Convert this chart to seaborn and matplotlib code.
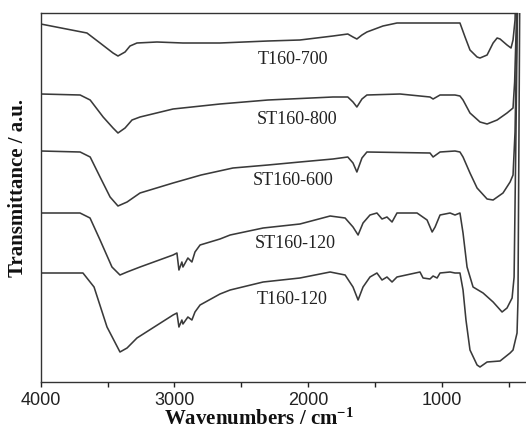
import matplotlib
matplotlib.use("Agg")
import matplotlib.pyplot as plt
from matplotlib.ticker import MultipleLocator
import seaborn as sns
import pandas as pd

# ---- data ----
wn_t700 = [4000, 3654, 3556, 3459, 3422, 3369, 3332, 3280, 3130, 2936, 2659, 2300, 2061, 1814,
           1703, 1664, 1635, 1597, 1560, 1440, 1335, 901, 864, 826, 789, 736, 714, 661, 616,
           586, 564, 512, 482, 467, 452, 440]
tr_t700 = [358, 349, 339, 329, 326, 330, 336, 339, 340, 339, 339, 341, 342, 346,
           348, 345, 343, 347, 350, 356, 359, 359, 359, 345, 332, 325, 324, 327, 339,
           344, 343, 337, 334, 342, 362, 422]

wn_st800 = [4000, 3705, 3630, 3533, 3459, 3422, 3369, 3317, 3257, 3010, 2659, 2300, 1814, 1703,
            1664, 1635, 1597, 1560, 1312, 1088, 1065, 1013, 901, 864, 841, 789, 714, 661, 586,
            512, 467, 455, 440, 425]
tr_st800 = [288, 287, 282, 265, 254, 249, 254, 262, 265, 273, 278, 282, 285, 285,
            280, 275, 283, 287, 288, 285, 283, 287, 287, 286, 282, 269, 260, 258, 262,
            269, 274, 300, 370, 422]

wn_st600 = [4000, 3705, 3630, 3556, 3481, 3422, 3354, 3257, 3010, 2800, 2562, 2300, 2061, 1814,
            1703, 1664, 1635, 1597, 1560, 1088, 1065, 1013, 901, 864, 841, 789, 736, 661, 616,
            542, 489, 467, 452, 440, 425]
tr_st600 = [231, 230, 225, 205, 185, 176, 180, 189, 199, 207, 214, 217, 220, 223,
            225, 219, 210, 224, 230, 229, 225, 230, 231, 230, 225, 209, 194, 183, 182,
            189, 200, 207, 250, 340, 422]

wn_st120 = [4000, 3706, 3631, 3556, 3467, 3407, 3354, 3257, 3010, 2981, 2966, 2944, 2936, 2899,
            2869, 2846, 2808, 2659, 2583, 2336, 2061, 1835, 1723, 1664, 1626, 1589, 1537, 1485,
            1447, 1410, 1372, 1335, 1185, 1110, 1072, 1050, 1013, 938, 901, 864, 841, 811, 766,
            691, 616, 549, 512, 474, 459, 445, 430]
tr_st120 = [169, 169, 164, 142, 115, 107, 110, 115, 127, 129, 112, 120, 115, 124,
            120, 130, 137, 143, 147, 154, 158, 166, 164, 155, 147, 159, 167, 169,
            163, 165, 160, 169, 169, 162, 150, 155, 167, 169, 167, 169, 149, 115, 95,
            89, 80, 70, 74, 84, 105, 250, 422]

wn_t120 = [4000, 3684, 3601, 3504, 3407, 3354, 3280, 3010, 2981, 2966, 2944, 2936, 2899, 2869,
           2846, 2808, 2659, 2583, 2336, 2061, 1835, 1723, 1664, 1626, 1589, 1537, 1485, 1447,
           1410, 1372, 1335, 1163, 1140, 1088, 1065, 1035, 1013, 938, 901, 864, 841, 819, 789,
           736, 714, 661, 564, 489, 467, 437, 430, 415]
tr_t120 = [109, 109, 95, 55, 30, 34, 44, 67, 69, 55, 62, 58, 65, 62,
           70, 77, 88, 92, 100, 104, 110, 107, 95, 82, 95, 105, 109, 102,
           105, 100, 105, 110, 104, 103, 106, 104, 109, 110, 109, 109, 92, 62, 32,
           17, 15, 20, 21, 29, 32, 49, 82, 422]

labels = ["T160-700", "ST160-800", "ST160-600", "ST160-120", "T160-120"]
series = [(wn_t700, tr_t700), (wn_st800, tr_st800), (wn_st600, tr_st600),
          (wn_st120, tr_st120), (wn_t120, tr_t120)]

# label anchor positions (wavenumber, transmittance)
label_pos = [(2113, 323), (2083, 263), (2113, 201), (2098, 138), (2120, 82)]

frames = []
for name, (w, t) in zip(labels, series):
    frames.append(pd.DataFrame({"wn": w, "tr": t, "sample": name}))
df = pd.concat(frames, ignore_index=True)

# ---- figure ----
sns.set_theme(style="white")
plt.rcParams["font.family"] = ["Liberation Sans", "DejaVu Sans"]
plt.rcParams["mathtext.fontset"] = "custom"
plt.rcParams["mathtext.rm"] = "Liberation Serif:bold"
plt.rcParams["mathtext.bf"] = "Liberation Serif:bold"
plt.rcParams["mathtext.it"] = "Liberation Serif:bold"

fig = plt.figure(figsize=(5.26, 4.36), dpi=100)
ax = fig.add_axes([40.7 / 526, 1 - 382 / 436, 1 - 40.7 / 526, (382 - 13) / 436])

for name in labels:
    sub = df[df["sample"] == name]
    sns.lineplot(data=sub, x="wn", y="tr", sort=False, estimator=None, ax=ax,
                 color="#3a3a3a", linewidth=1.15, legend=False)

for name, (x, y) in zip(labels, label_pos):
    ax.text(x, y, name, ha="center", va="center", fontsize=13,
            family="Liberation Serif", color="#222222")

ax.set_xlim(4000, 370)
ax.set_ylim(0, 369)
ax.xaxis.set_major_locator(MultipleLocator(1000))
ax.xaxis.set_minor_locator(MultipleLocator(500))
ax.tick_params(axis="x", which="both", direction="out", length=3.5, width=1,
               bottom=True, labelsize=13, colors="#222222", pad=4)
ax.tick_params(axis="y", left=False, labelleft=False)
ax.set_yticks([])
ax.set_xlabel("")
ax.set_ylabel("")

for s in ["left", "bottom", "top"]:
    ax.spines[s].set_color("#333333")
    ax.spines[s].set_linewidth(1.0)
ax.spines["right"].set_visible(False)
ax.spines["top"].set_bounds(4000, 440)

fig.text(259 / 526, 1 - 425 / 436, "Wavenumbers / cm$^{-1}$", ha="center", va="baseline",
         fontsize=15, fontweight="bold", family="Liberation Serif", color="#111111")
fig.text(18 / 526, 1 - 188 / 436, "Transmittance / a.u.", ha="center", va="center",
         rotation=90, fontsize=15, fontweight="bold", family="Liberation Serif",
         color="#111111")

fig.savefig("out.png", dpi=100)
